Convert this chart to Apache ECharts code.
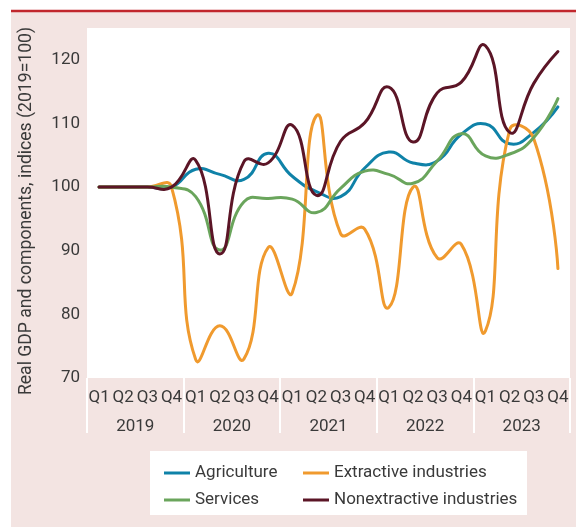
<!DOCTYPE html>
<html>
<head>
<meta charset="utf-8">
<script src="https://cdn.jsdelivr.net/npm/echarts@6/dist/echarts.min.js"></script>
<style>
html,body{margin:0;padding:0;background:#fff;}
#c{width:576px;height:527px;}
</style>
</head>
<body>
<div id="c"></div>
<script>
const quarters = ['Q1','Q2','Q3','Q4','Q1','Q2','Q3','Q4','Q1','Q2','Q3','Q4','Q1','Q2','Q3','Q4','Q1','Q2','Q3','Q4'];
const years = ['2019','2020','2021','2022','2023'];
const agriculture = [100,100,100,100,102.8,102.0,101.2,105.3,101.7,99.3,98.5,103.0,105.5,103.8,104.1,108.3,109.9,106.8,108.6,112.6];
const extractive = [100,100,100,100,72.9,78.2,73.0,90.5,83.4,111.2,92.7,93.4,81.1,100.0,88.9,91.0,77.4,109.0,107.6,87.2];
const services = [100,100,100,100,98.5,90.1,97.7,98.2,98.1,96.0,99.8,102.5,102.0,100.6,104.1,108.4,104.9,105.2,107.8,113.9];
const nonextractive = [100,100,100,100,104.2,89.5,104.0,103.8,109.7,98.7,107.2,110.1,115.7,107.1,114.8,116.5,122.2,108.6,116.3,121.3];
const yTicks = [70,80,90,100,110,120];

const FONT = 'Roboto,"Liberation Sans",sans-serif';
const FS = 17;
const TXT = '#3a3a3a';
const colors = {agri:'#0f82a8', ext:'#f09a2e', serv:'#6aa55c', non:'#5b1526'};
const SMOOTH = 0.5;

const chart = echarts.init(document.getElementById('c'), null, {renderer:'canvas'});

// Smoothed path through the data points (positions from the chart's own scales)
function smoothPath(pts){
  let d = 'M' + pts[0][0] + ' ' + pts[0][1];
  const n = pts.length;
  const cps = pts.map((p,i)=>{
    if (i === 0 || i === n-1) return {inn:p, out:p};
    const pr = pts[i-1], nx = pts[i+1];
    const vx = nx[0]-pr[0], vy = nx[1]-pr[1];
    const l0 = Math.hypot(p[0]-pr[0], p[1]-pr[1]);
    const l1 = Math.hypot(nx[0]-p[0], nx[1]-p[1]);
    const r = l1/(l0+l1);
    return {inn:[p[0]-vx*SMOOTH*(1-r), p[1]-vy*SMOOTH*(1-r)],
            out:[p[0]+vx*SMOOTH*r, p[1]+vy*SMOOTH*r]};
  });
  for (let i=1;i<n;i++){
    const a = cps[i-1].out, b = cps[i].inn, p = pts[i];
    d += ' C' + a[0] + ' ' + a[1] + ' ' + b[0] + ' ' + b[1] + ' ' + p[0] + ' ' + p[1];
  }
  return d;
}

function mkSeries(name, values, color){
  return {name, type:'custom', xAxisIndex:0, yAxisIndex:0,
    data: values.map((v,i)=>[i,v]), encode:{x:0, y:1},
    itemStyle:{color},
    renderItem:(params, api)=>{
      if (params.dataIndex !== 0) return null;
      const pts = values.map((v,i)=>api.coord([i, v]));
      return {type:'path', shape:{pathData: smoothPath(pts)},
        style:{stroke:color, lineWidth:3, fill:'none', lineJoin:'round', lineCap:'round'}};
    }};
}

chart.setOption({
  animation:false,
  graphic:[
    {type:'rect', z:-20, shape:{x:11,y:12,width:565,height:515}, style:{fill:'#f3e4e2'}},
    {type:'line', z:-19, shape:{x1:11,y1:11,x2:576,y2:11}, style:{stroke:'#c1272d', lineWidth:2.5}},
    {type:'rect', z:-5, shape:{x:150,y:451,width:377,height:64}, style:{fill:'#ffffff'}},
    {type:'text', z:10, x:27, y:211, rotation:Math.PI/2,
      style:{text:'Real GDP and components, indices (2019=100)', font:'17.6px '+FONT, fill:TXT,
        textAlign:'center', textVerticalAlign:'middle'}}
  ],
  grid:{left:87, top:28, right:6, bottom:149, show:true, backgroundColor:'#ffffff', borderWidth:0},
  xAxis:[
    {type:'category', data:quarters, boundaryGap:true,
      axisLine:{show:false}, axisTick:{show:false},
      axisLabel:{interval:0, margin:11, color:TXT, fontSize:FS, fontFamily:FONT}},
    {type:'category', data:years, boundaryGap:true, position:'bottom',
      axisLine:{show:false},
      axisTick:{show:true, length:55, inside:false, lineStyle:{color:'#ffffff', width:2}},
      axisLabel:{interval:0, margin:40, color:TXT, fontSize:FS, fontFamily:FONT}}
  ],
  yAxis:{type:'value', min:70, max:125, interval:10,
    axisLine:{show:false}, axisTick:{show:false}, splitLine:{show:false},
    axisLabel:{margin:7, color:TXT, fontSize:FS, fontFamily:FONT,
      formatter:v => yTicks.includes(v) ? String(v) : ''}},
  legend:[
    {data:['Agriculture','Services'], orient:'vertical', left:159, top:458, padding:5,
      icon:'rect', itemWidth:26, itemHeight:3, itemGap:7,
      textStyle:{color:TXT, fontSize:FS, fontFamily:FONT, lineHeight:20}},
    {data:['Extractive industries','Nonextractive industries'], orient:'vertical', left:298, top:458, padding:5,
      icon:'rect', itemWidth:26, itemHeight:3, itemGap:7,
      textStyle:{color:TXT, fontSize:FS, fontFamily:FONT, lineHeight:20}}
  ],
  series:[
    mkSeries('Agriculture', agriculture, colors.agri),
    mkSeries('Extractive industries', extractive, colors.ext),
    mkSeries('Services', services, colors.serv),
    mkSeries('Nonextractive industries', nonextractive, colors.non)
  ]
});
</script>
</body>
</html>
